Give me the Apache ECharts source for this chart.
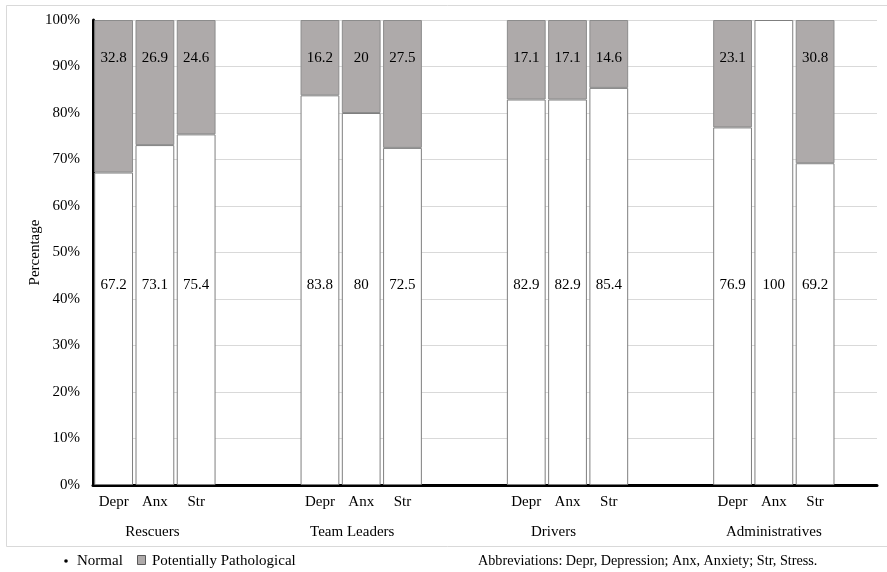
<!DOCTYPE html>
<html>
<head>
<meta charset="utf-8">
<script src="https://cdn.jsdelivr.net/npm/echarts@6/dist/echarts.min.js"></script>
<style>
html,body{margin:0;padding:0;background:#fff;}
#c{width:887px;height:572px;}
</style>
</head>
<body>
<div id="c"></div>
<script>
// Data
var slotLabels = ['Depr','Anx','Str','','', 'Depr','Anx','Str','','', 'Depr','Anx','Str','','', 'Depr','Anx','Str',''];
var groupLabels = ['','Rescuers','','','', '','Team Leaders','','','', '','Drivers','','','', '','Administratives','',''];
var normalValues = [67.2,73.1,75.4,null,null, 83.8,80,72.5,null,null, 82.9,82.9,85.4,null,null, 76.9,100,69.2,null];
var pathValues   = [32.8,26.9,24.6,null,null, 16.2,20,27.5,null,null, 17.1,17.1,14.6,null,null, 23.1,null,30.8,null];
var yTicks = [0,10,20,30,40,50,60,70,80,90,100];
var seriesNames = ['Normal','Potentially Pathological'];
var noteText = 'Abbreviations: Depr, Depression; Anx, Anxiety; Str, Stress.';

var FONT = '"Liberation Serif", "Times New Roman", serif';
var chart = echarts.init(document.getElementById('c'), null, {renderer:'canvas'});
var groupShift = {'Rescuers':'g0','Team Leaders':'g1','Drivers':'g2','Administratives':'g3'};

chart.setOption({
  animation:false,
  backgroundColor:'#fff',
  grid:{left:93, right:10, top:20, bottom:87, containLabel:false},
  xAxis:[{
    type:'category', data:slotLabels, position:'bottom',
    axisLine:{show:true, lineStyle:{color:'#000', width:3}},
    axisTick:{show:false},
    axisLabel:{color:'#000', fontFamily:FONT, fontSize:15, margin:10, interval:0},
    splitLine:{show:false}
  },{
    type:'category', data:groupLabels, position:'bottom', offset:30,
    axisLine:{show:false}, axisTick:{show:false},
    axisLabel:{color:'#000', fontFamily:FONT, fontSize:15, margin:10, interval:0,
      formatter:function(v){ return v ? '{'+groupShift[v]+'|'+v+'}' : ''; },
      rich:{
        g0:{fontFamily:FONT, fontSize:15, color:'#000', padding:[0,5,0,0]},
        g1:{fontFamily:FONT, fontSize:15, color:'#000', padding:[0,18,0,0]},
        g2:{fontFamily:FONT, fontSize:15, color:'#000', padding:[0,28,0,0]},
        g3:{fontFamily:FONT, fontSize:15, color:'#000', padding:[0,0,0,0]}
      }
    },
    splitLine:{show:false}
  }],
  yAxis:{
    type:'value', min:yTicks[0], max:yTicks[yTicks.length-1], interval:10,
    name:'Percentage', nameLocation:'middle', nameGap:50, nameMoveOverlap:false,
    nameTextStyle:{color:'#000', fontFamily:FONT, fontSize:15},
    axisLine:{show:true, lineStyle:{color:'#000', width:3}},
    axisTick:{show:false},
    axisLabel:{color:'#000', fontFamily:FONT, fontSize:15, margin:13, formatter:'{value}%'},
    splitLine:{show:true, lineStyle:{color:'#d9d9d9', width:1}}
  },
  series:[{
    name:seriesNames[0], type:'bar', stack:'s', data:normalValues, xAxisIndex:0,
    barCategoryGap:'6%',
    itemStyle:{color:'#ffffff', borderColor:'#7f7f7f', borderWidth:1},
    label:{show:true, position:'insideBottom', distance:192, color:'#000', fontFamily:FONT, fontSize:15}
  },{
    name:seriesNames[1], type:'bar', stack:'s', data:pathValues, xAxisIndex:0,
    barCategoryGap:'6%',
    itemStyle:{color:'#aeaaaa', borderColor:'#8c8c8c', borderWidth:1},
    label:{show:true, position:'insideTop', distance:31, color:'#000', fontFamily:FONT, fontSize:15}
  }],
  graphic:[
    {type:'rect', silent:true, z:-1, shape:{x:6.5, y:5.5, width:900, height:541}, style:{fill:null, stroke:'#d9d9d9', lineWidth:1}},
    {type:'circle', shape:{cx:66, cy:561, r:1.8}, style:{fill:'#000'}},
    {type:'text', x:77, y:561, style:{text:seriesNames[0], font:'15px '+FONT, fill:'#000', textVerticalAlign:'middle', verticalAlign:'middle'}},
    {type:'rect', shape:{x:137.5, y:555.5, width:8, height:9}, style:{fill:'#aeaaaa', stroke:'#595959', lineWidth:1}},
    {type:'text', x:152, y:561, style:{text:seriesNames[1], font:'15px '+FONT, fill:'#000', textVerticalAlign:'middle', verticalAlign:'middle'}},
    {type:'text', x:478, y:561, style:{text:noteText, font:'14.2px '+FONT, fill:'#000', textVerticalAlign:'middle', verticalAlign:'middle'}}
  ]
});
</script>
</body>
</html>
